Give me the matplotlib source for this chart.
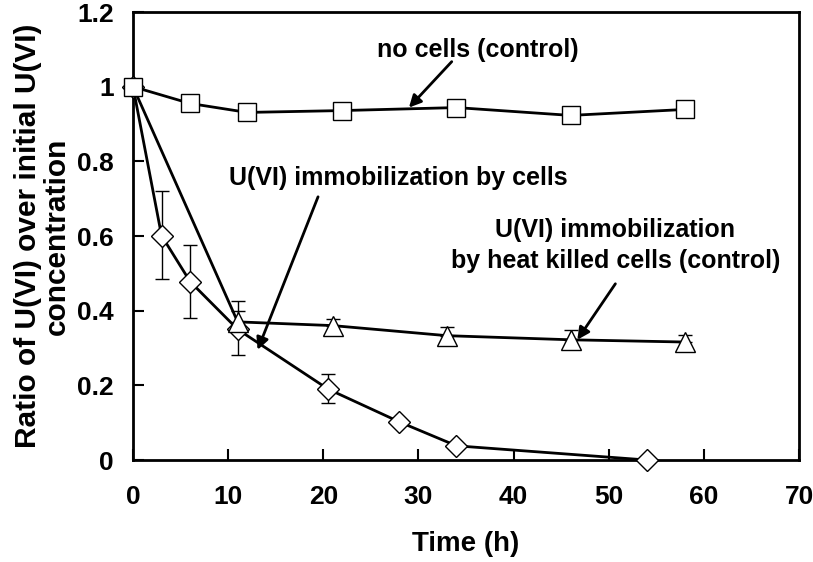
import matplotlib
matplotlib.use("Agg")
import matplotlib.pyplot as plt

plt.rcParams['font.family'] = ['Liberation Sans', 'DejaVu Sans']
plt.rcParams['font.weight'] = 'bold'

# no cells (control)
t_ctrl = [0, 6, 12, 22, 34, 46, 58]
r_ctrl = [1.0, 0.955, 0.931, 0.936, 0.944, 0.923, 0.939]

# immobilization by cells
t_cells = [0, 3, 6, 11, 20.5, 28, 34, 54]
r_cells = [1.0, 0.601, 0.478, 0.35, 0.19, 0.102, 0.038, 0.0]
lo_cells = [0, 0.117, 0.097, 0.07, 0.036, 0, 0, 0]
hi_cells = [0, 0.119, 0.099, 0.05, 0.04, 0, 0, 0]

# heat killed cells (control)
t_heat = [0, 11, 21, 33, 46, 58]
r_heat = [1.0, 0.37, 0.36, 0.333, 0.322, 0.316]
err_heat = [0, 0.057, 0.018, 0.024, 0.026, 0.02]

fig = plt.figure(figsize=(8.13, 5.62), dpi=100)
ax = fig.add_axes([133/813, 1-460/562, 666/813, 448/562])

ax.errorbar(t_cells, r_cells, yerr=[lo_cells, hi_cells], fmt='none', ecolor='black',
            elinewidth=1, capsize=5, capthick=1, zorder=2)
ax.errorbar(t_heat, r_heat, yerr=[[0]*len(err_heat), err_heat], fmt='none', ecolor='black',
            elinewidth=1, capsize=5, capthick=1, zorder=2)

ax.plot(t_heat, r_heat, color='black', lw=2, zorder=3)
ax.plot(t_heat[1:], r_heat[1:], ls='none', marker='^', ms=14, mfc='white', mec='black',
        mew=1, zorder=5)
ax.plot(t_cells, r_cells, color='black', lw=2, marker='D', ms=11, mfc='white',
        mec='black', mew=1, zorder=4, clip_on=False)
ax.plot(t_ctrl, r_ctrl, color='black', lw=2, marker='s', ms=13, mfc='white',
        mec='black', mew=1, zorder=6, clip_on=False)

ax.set_xlim(0, 70)
ax.set_ylim(0, 1.2)
ax.set_xticks(range(0, 71, 10))
ax.set_yticks([0, 0.2, 0.4, 0.6, 0.8, 1.0, 1.2])
ax.set_yticklabels(['0', '0.2', '0.4', '0.6', '0.8', '1', '1.2'])
ax.tick_params(direction='in', length=8, width=1.5, labelsize=19)
ax.tick_params(axis='y', pad=14)
ax.tick_params(axis='x', pad=18)
for s in ax.spines.values():
    s.set_linewidth(2)

ax.set_xlabel('Time (h)', fontsize=20, fontweight='bold', labelpad=16)
ax.set_ylabel('Ratio of U(VI) over initial U(VI)\nconcentration', fontsize=21.5,
              fontweight='bold', labelpad=4, linespacing=1.05)

arrow = dict(arrowstyle='-|>', color='black', lw=2, mutation_scale=18, shrinkA=0, shrinkB=0)
ax.text(36.2, 1.099, 'no cells (control)', ha='center', va='center',
        fontsize=18, fontweight='bold')
ax.annotate('', xy=(29.0, 0.944), xytext=(33.5, 1.067), arrowprops=arrow)

ax.text(27.9, 0.756, 'U(VI) immobilization by cells', ha='center', va='center',
        fontsize=18, fontweight='bold')
ax.annotate('', xy=(13.1, 0.295), xytext=(19.45, 0.705), arrowprops=arrow)

ax.text(50.7, 0.574, 'U(VI) immobilization\nby heat killed cells (control)', ha='center',
        va='center', fontsize=18, fontweight='bold', linespacing=1.35)
ax.annotate('', xy=(46.7, 0.322), xytext=(50.7, 0.472), arrowprops=arrow)

fig.savefig('out.png', dpi=100)
